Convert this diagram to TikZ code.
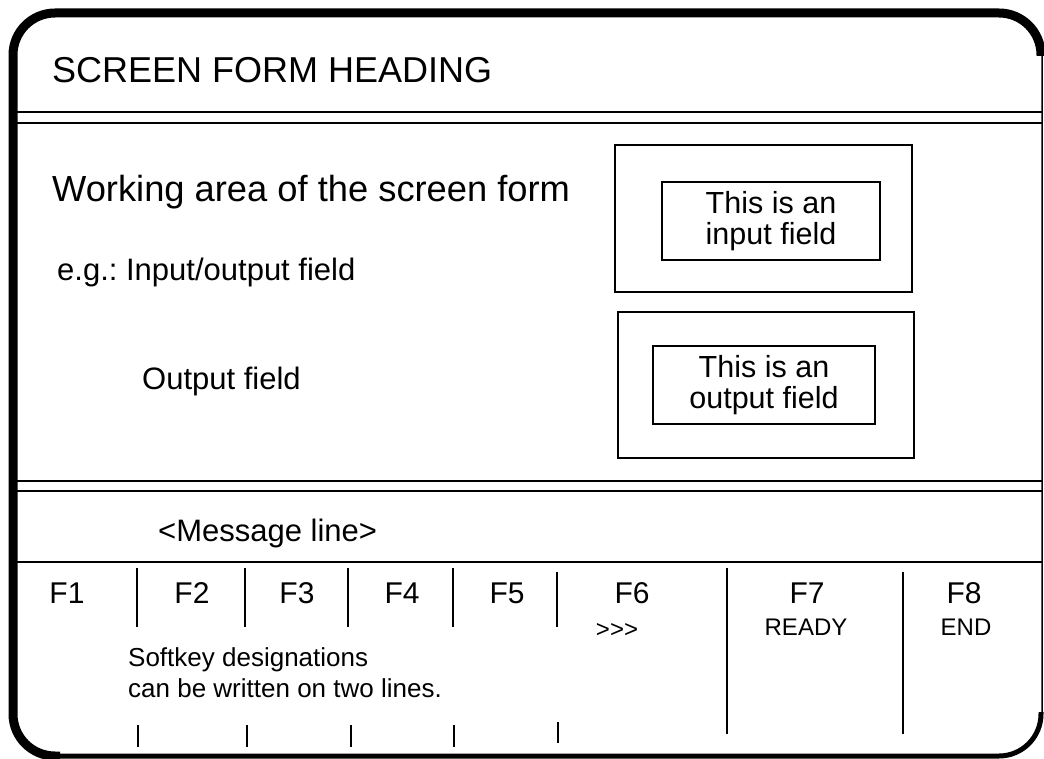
\documentclass[tikz,border=0pt]{standalone}
\usepackage{fontspec}
\setmainfont[Ligatures=NoCommon]{Liberation Sans}
\frenchspacing
\begin{document}
\begin{tikzpicture}[x=1pt,y=-1pt,
  rule/.style={line width=1.8pt},
  sepline/.style={line width=1.5pt},
  frame/.style={draw, line width=1.8pt, inner sep=0pt},
  fieldbox/.style={draw, line width=1.8pt, inner sep=0pt, align=center, font=\fontsize{30.5}{31}\selectfont},
  lbl/.style={inner sep=0pt, anchor=base west},
  fkey/.style={inner sep=0pt, anchor=base, font=\fontsize{30}{30}\selectfont},
  fsub/.style={inner sep=0pt, anchor=base, font=\fontsize{24}{25}\selectfont}]
\useasboundingbox (0,0) rectangle (1044,759);
% outer frame
\draw[line width=1.5pt, rounded corners=42pt] (13,13) rectangle (1042,756);
\draw[line width=9pt, rounded corners=42pt] (60,756) -- (13,756) -- (13,13) -- (1041,13) -- (1041,56);
\draw[line width=5pt, rounded corners=42pt] (58,756) -- (1041,756) -- (1041,712);
% horizontal rules
\draw[rule] (13,112) -- (1042,112);
\draw[rule] (13,123) -- (1042,123);
\draw[rule] (13,481) -- (1042,481);
\draw[rule] (13,491) -- (1042,491);
\draw[rule] (13,562) -- (1042,562);
% texts
\node[lbl, font=\fontsize{36}{40}\selectfont] (head) at (52,83) {SCREEN FORM HEADING};
\node[lbl, font=\fontsize{36.3}{40}\selectfont] (work) at (52,202) {Working area of the screen form};
\node[lbl, font=\fontsize{31}{32}\selectfont] (eg) at (57,281) {e.g.: Input/output field};
\node[lbl, font=\fontsize{31}{32}\selectfont] (outlbl) at (142,389) {Output field};
\node[lbl, font=\fontsize{31}{32}\selectfont] (msg) at (158,541) {{<}Message line{>}};
% fields
\node[frame, minimum width=297pt, minimum height=147pt] (inframe) at (763.5,218.5) {};
\node[fieldbox, minimum width=218pt, minimum height=78pt] (infield) at (771,221) {This is an\\input field};
\node[frame, minimum width=296pt, minimum height=146pt] (outframe) at (766,385) {};
\node[fieldbox, minimum width=222pt, minimum height=78pt] (outfield) at (764,385) {This is an\\output field};
% softkeys
\node[fkey] (f1) at (67,603) {F1};
\node[fkey] (f2) at (192,603) {F2};
\node[fkey] (f3) at (297,603) {F3};
\node[fkey] (f4) at (402,603) {F4};
\node[fkey] (f5) at (507,603) {F5};
\node[fkey] (f6) at (632,603) {F6};
\node[fkey] (f7) at (807,603) {F7};
\node[fkey] (f8) at (964,603) {F8};
\node[fsub] (s6) at (617,637) {{>}{>}{>}};
\node[fsub] (s7) at (806,635) {READY};
\node[fsub] (s8) at (966,635) {END};
\node[lbl, font=\fontsize{26}{31}\selectfont] (soft1) at (128,666) {Softkey designations};
\node[lbl, font=\fontsize{26}{31}\selectfont] (soft2) at (128,697) {can be written on two lines.};
% separators
\foreach \x in {137,245,348,453} \draw[sepline] (\x,568) -- (\x,627);
\draw[sepline] (557,572) -- (557,627);
\draw[sepline] (727,568) -- (727,734);
\draw[sepline] (903,572) -- (903,734);
\foreach \x in {138,247,351,454} \draw[sepline] (\x,725) -- (\x,747);
\draw[sepline] (558,722) -- (558,743);
\end{tikzpicture}
\end{document}
